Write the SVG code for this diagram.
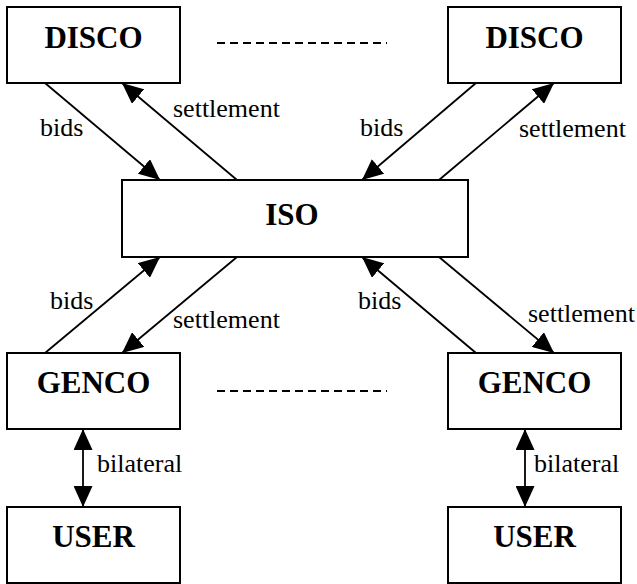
<svg xmlns="http://www.w3.org/2000/svg" width="637" height="584" viewBox="0 0 637 584">
<style>
.box{fill:#fff;stroke:#000;stroke-width:2}
.nl{font-family:"Liberation Serif","Times New Roman",serif;font-weight:bold;font-size:31px;text-anchor:middle;fill:#000}
.el{font-family:"Liberation Serif","Times New Roman",serif;font-size:26px;fill:#000}
.ln{stroke:#000;stroke-width:1.8;fill:none}
.dash{stroke:#000;stroke-width:1.8;stroke-dasharray:8 5;fill:none}
</style>
<defs>
<marker id="ah" markerUnits="userSpaceOnUse" markerWidth="21" markerHeight="19" refX="21" refY="9.5" orient="auto">
<path d="M0,0 L21,9.5 L0,19 z" fill="#000"/>
</marker>
<marker id="as" markerUnits="userSpaceOnUse" markerWidth="21" markerHeight="19" refX="0" refY="9.5" orient="auto">
<path d="M21,0 L0,9.5 L21,19 z" fill="#000"/>
</marker>
</defs>
<g id="disco1"><rect class="box" x="7" y="7" width="173" height="76"/><text class="nl" x="93.5" y="48">DISCO</text></g>
<g id="disco2"><rect class="box" x="448" y="7" width="173" height="76"/><text class="nl" x="534.5" y="48">DISCO</text></g>
<g id="iso"><rect class="box" x="122" y="180" width="346" height="77"/><text class="nl" x="292" y="225">ISO</text></g>
<g id="genco1"><rect class="box" x="7" y="353" width="173" height="76"/><text class="nl" x="93.5" y="393">GENCO</text></g>
<g id="genco2"><rect class="box" x="448" y="353" width="173" height="76"/><text class="nl" x="534.5" y="393">GENCO</text></g>
<g id="user1"><rect class="box" x="7" y="507" width="173" height="76"/><text class="nl" x="93.5" y="547">USER</text></g>
<g id="user2"><rect class="box" x="448" y="507" width="173" height="76"/><text class="nl" x="534.5" y="547">USER</text></g>
<g id="connectors">
<line class="dash" x1="217" y1="43" x2="387" y2="43"/>
<line class="dash" x1="217" y1="391" x2="387" y2="391"/>
<line class="ln" x1="45" y1="83" x2="160" y2="180" marker-end="url(#ah)"/>
<line class="ln" x1="237" y1="180" x2="122" y2="83" marker-end="url(#ah)"/>
<line class="ln" x1="476" y1="83" x2="362" y2="180" marker-end="url(#ah)"/>
<line class="ln" x1="439" y1="180" x2="554" y2="83" marker-end="url(#ah)"/>
<line class="ln" x1="45" y1="353" x2="160" y2="257" marker-end="url(#ah)"/>
<line class="ln" x1="237" y1="257" x2="122" y2="353" marker-end="url(#ah)"/>
<line class="ln" x1="476" y1="353" x2="362" y2="257" marker-end="url(#ah)"/>
<line class="ln" x1="439" y1="257" x2="554" y2="353" marker-end="url(#ah)"/>
<line class="ln" x1="83" y1="429" x2="83" y2="507" marker-start="url(#as)" marker-end="url(#ah)"/>
<line class="ln" x1="525" y1="429" x2="525" y2="507" marker-start="url(#as)" marker-end="url(#ah)"/>
<text class="el" x="40" y="136">bids</text>
<text class="el" x="173" y="117">settlement</text>
<text class="el" x="360" y="136">bids</text>
<text class="el" x="519" y="137">settlement</text>
<text class="el" x="50" y="309">bids</text>
<text class="el" x="173" y="328">settlement</text>
<text class="el" x="358" y="309">bids</text>
<text class="el" x="528" y="322">settlement</text>
<text class="el" x="97" y="472">bilateral</text>
<text class="el" x="534" y="472">bilateral</text>
</g>
</svg>
